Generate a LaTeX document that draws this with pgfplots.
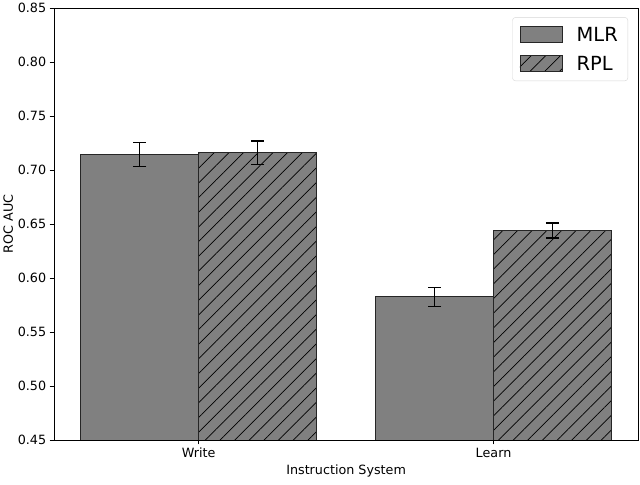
\documentclass[border=0pt]{standalone}
\usepackage{pgfplots}
\pgfplotsset{compat=1.18}
\usepackage{fontspec}
\setmainfont{DejaVu Sans}
\usetikzlibrary{patterns.meta}
\definecolor{bargray}{HTML}{808080}
\definecolor{legedge}{HTML}{D6D6D6}
\begin{document}
\begin{tikzpicture}[x=1bp,y=1bp]
\begin{axis}[
  name=ax,
  scale only axis,
  width=580bp, height=429bp,
  xmin=-0.49, xmax=1.49,
  ymin=0.45, ymax=0.85,
  ytick={0.45,0.50,...,0.851},
  yticklabel style={/pgf/number format/fixed,/pgf/number format/fixed zerofill,/pgf/number format/precision=2},
  /pgf/number format/assume math mode=true,
  xtick={0,1}, xticklabels={Write,Learn},
  tick label style={font=\fontsize{12.7}{15}\selectfont},
  label style={font=\fontsize{12.7}{15}\selectfont},
  xlabel={Instruction System},
  ylabel={ROC AUC},
  xlabel style={yshift=0bp},
  ylabel style={yshift=-2bp},
  tick align=outside,
  tick pos=lower,
  major tick length=4.5bp,
  tick style={black, line width=0.8bp},
  axis line style={line width=0.8bp},
  ybar, bar width=0.4,
  legend style={at={(0.983,0.979)}, anchor=north east, draw=legedge, fill=white, rounded corners=3bp,
    font=\fontsize{19.4}{23}\selectfont, row sep=8bp, inner xsep=7bp, inner ysep=6.5bp,
    nodes={inner xsep=3bp, inner ysep=3.5bp, text height=14bp, text depth=0bp},
    /tikz/every odd column/.append style={column sep=11bp}},
  legend cell align=left,
  legend image code/.code={\draw[#1, sharp corners] (0bp,-8bp) rectangle (42bp,8bp);},
  error bars/error bar style={line width=1.2bp, black},
  error bars/error mark options={rotate=90, mark size=6.5bp, line width=1.2bp, black},
]
\addplot[bar shift=0pt, fill=bargray, draw=black!85, line width=0.8bp,
  error bars/.cd, y dir=both, y explicit]
  coordinates {(-0.2,0.7145) +- (0,0.011) (0.8,0.5825) +- (0,0.009)};
\addlegendentry{MLR}
\addplot[bar shift=0pt, fill=bargray, draw=black!85, line width=0.8bp,
  postaction={pattern={Lines[angle=45,distance=10.3bp,line width=0.7bp]}},
  error bars/.cd, y dir=both, y explicit]
  coordinates {(0.2,0.716) +- (0,0.011) (1.2,0.644) +- (0,0.007)};
\addlegendentry{RPL}
\end{axis}
\path (ax.north east) ++(2bp,6bp);
\path (ax.south west) ++(0bp,-44bp);
\end{tikzpicture}
\end{document}
